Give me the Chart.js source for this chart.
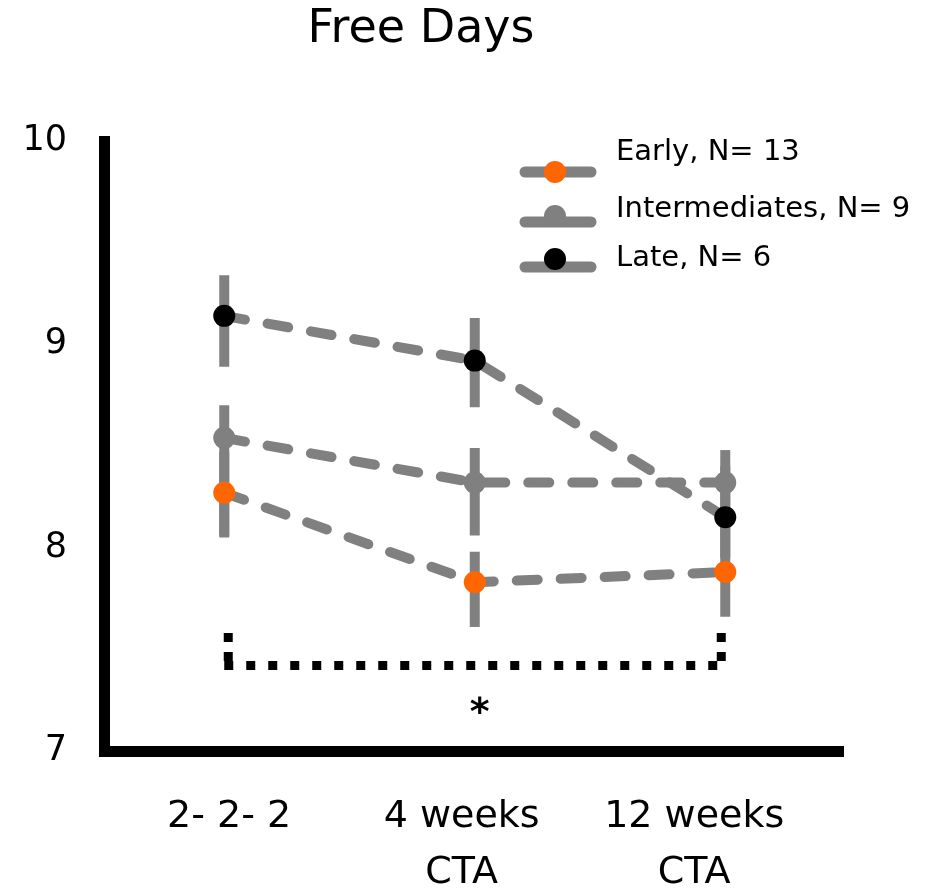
<!DOCTYPE html>
<html>
<head>
<meta charset="utf-8">
<script src="https://cdn.jsdelivr.net/npm/chart.js@4/dist/chart.umd.min.js"></script>
<style>
  html, body { margin: 0; padding: 0; background: #fff; }
  #wrap { width: 927px; height: 890px; }
</style>
</head>
<body>
<div id="wrap"><canvas id="c" width="927" height="890"></canvas></div>
<script>
// Time points along the x axis
const categories = ['2- 2- 2', ['4 weeks', 'CTA'], ['12 weeks', 'CTA']];

// Mean free days per group
const seriesLabels = ['Early, N= 13', 'Intermediates, N= 9', 'Late, N= 6'];
const earlyValues = [8.27, 7.83, 7.88];
const intermediateValues = [8.54, 8.32, 8.32];
const lateValues = [9.14, 8.92, 8.15];

// Error bar extents (low / high) per group
const earlyLow = [8.06, 7.61, 7.66];
const earlyHigh = [8.47, 7.98, 8.10];
const intermediateLow = [8.05, 8.06, 8.10];
const intermediateHigh = [8.70, 8.49, 8.48];
const lateLow = [8.89, 8.69, 7.95];
const lateHigh = [9.34, 9.13, 8.40];

// Y axis ticks
const yTicks = [7, 8, 9, 10];

// Significance bracket between first and last time point
const bracketFrom = 0, bracketTo = 2;
const bracketLevel = 7.42, bracketTop = 7.58;
const starLevel = 7.22;
const starText = '*';
const titleText = 'Free Days';

const FONT = "'DejaVu Sans', sans-serif";
const GREY = '#808080';
const pointColors = ['#FF6600', '#808080', '#000000'];

const valueSets = [earlyValues, intermediateValues, lateValues];
const lowSets = [earlyLow, intermediateLow, lateLow];
const highSets = [earlyHigh, intermediateHigh, lateHigh];

const datasets = valueSets.map((vals, k) => ({
  label: seriesLabels[k],
  data: vals.map((v, i) => ({ x: i, y: v })),
  xAxisID: 'xd',
  yAxisID: 'y',
  borderColor: GREY,
  borderWidth: 10,
  borderDash: [21, 23],
  borderCapStyle: 'round',
  pointRadius: 11,
  pointHoverRadius: 11,
  pointBackgroundColor: pointColors[k],
  pointBorderWidth: 0,
  fill: false,
  tension: 0
}));

// Vertical error bars, drawn underneath lines and markers
const errorBars = {
  id: 'errorBars',
  beforeDatasetsDraw(chart) {
    const { ctx } = chart;
    const xs = chart.scales.xd, ys = chart.scales.y;
    ctx.save();
    ctx.strokeStyle = GREY;
    ctx.lineWidth = 10;
    ctx.lineCap = 'butt';
    lowSets.forEach((lows, k) => {
      lows.forEach((lo, i) => {
        const x = xs.getPixelForValue(i);
        ctx.beginPath();
        ctx.moveTo(x, ys.getPixelForValue(lo));
        ctx.lineTo(x, ys.getPixelForValue(highSets[k][i]));
        ctx.stroke();
      });
    });
    ctx.restore();
  }
};

// Title, legend, significance bracket and star
const decorations = {
  id: 'decorations',
  afterDraw(chart) {
    const { ctx } = chart;
    const xs = chart.scales.xd, ys = chart.scales.y;
    ctx.save();

    // title
    ctx.fillStyle = '#000';
    ctx.font = '46px ' + FONT;
    ctx.textAlign = 'center';
    ctx.textBaseline = 'middle';
    ctx.fillText(titleText, 421, 30);

    // legend
    const lineY = [172, 222, 267], markY = [172, 216, 259], textY = [152, 209, 258];
    chart.data.datasets.forEach((ds, k) => {
      ctx.strokeStyle = GREY;
      ctx.lineWidth = 11;
      ctx.lineCap = 'round';
      ctx.setLineDash([]);
      ctx.beginPath();
      ctx.moveTo(525, lineY[k]);
      ctx.lineTo(591, lineY[k]);
      ctx.stroke();
      ctx.fillStyle = ds.pointBackgroundColor;
      ctx.beginPath();
      ctx.arc(555, markY[k], 11, 0, Math.PI * 2);
      ctx.fill();
      ctx.fillStyle = '#000';
      ctx.font = '29px ' + FONT;
      ctx.textAlign = 'left';
      ctx.textBaseline = 'middle';
      ctx.fillText(ds.label, 616, textY[k]);
    });

    // bracket: two dotted legs and a dotted bar
    const x0 = xs.getPixelForValue(bracketFrom) + 4;
    const x2 = xs.getPixelForValue(bracketTo) - 4;
    const yb = ys.getPixelForValue(bracketLevel);
    const yt = ys.getPixelForValue(bracketTop);
    ctx.strokeStyle = '#000';
    ctx.lineWidth = 9;
    ctx.lineCap = 'butt';
    ctx.setLineDash([9, 13]);
    ctx.beginPath();
    ctx.moveTo(x0 - 4, yb);
    ctx.lineTo(x2 + 4, yb);
    ctx.stroke();
    ctx.setLineDash([9, 10]);
    [x0, x2].forEach((x) => {
      ctx.beginPath();
      ctx.moveTo(x, yt);
      ctx.lineTo(x, yb + 4);
      ctx.stroke();
    });
    ctx.setLineDash([]);

    // star
    ctx.fillStyle = '#000';
    ctx.font = 'bold 38px ' + FONT;
    ctx.textAlign = 'center';
    ctx.textBaseline = 'middle';
    ctx.fillText(starText, xs.getPixelForValue(1) + 5, ys.getPixelForValue(starLevel) + 8);

    ctx.restore();
  }
};

new Chart(document.getElementById('c'), {
  type: 'line',
  data: { datasets },
  options: {
    responsive: false,
    animation: false,
    events: [],
    layout: { padding: { top: 141, right: 84, bottom: 0, left: 0 } },
    plugins: {
      legend: { display: false },
      title: { display: false },
      tooltip: { enabled: false }
    },
    scales: {
      x: {
        type: 'linear',
        position: 'bottom',
        min: -0.538,
        max: 2.64,
        grid: { display: false, drawTicks: false },
        border: { display: true, width: 11, color: '#000' },
        afterBuildTicks(scale) { scale.ticks = categories.map((c, i) => ({ value: i })); },
        afterFit(scale) { scale.height = 139; },
        ticks: {
          autoSkip: false,
          maxRotation: 0,
          padding: 39,
          color: '#000',
          font: { family: FONT, size: 38, lineHeight: 1.45 },
          callback: (v) => categories[v]
        }
      },
      xd: {
        type: 'linear',
        axis: 'x',
        position: 'bottom',
        display: false,
        min: -0.48,
        max: 2.47
      },
      y: {
        type: 'linear',
        position: 'left',
        min: 7,
        max: 10,
        grid: { display: false, drawTicks: false },
        border: { display: true, width: 11, color: '#000' },
        afterBuildTicks(scale) { scale.ticks = yTicks.map(v => ({ value: v })); },
        afterFit(scale) { scale.width = 104; },
        ticks: {
          padding: 37,
          color: '#000',
          font: { family: FONT, size: 35 }
        }
      }
    }
  },
  plugins: [errorBars, decorations]
});
</script>
</body>
</html>
